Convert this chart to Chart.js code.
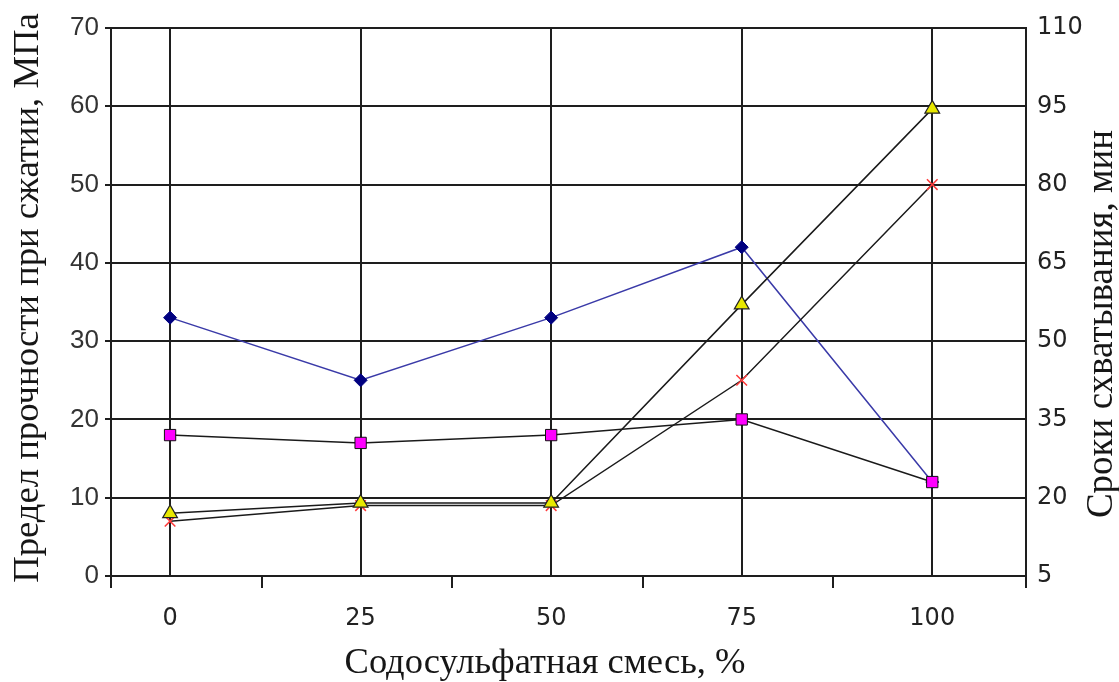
<!DOCTYPE html>
<html>
<head>
<meta charset="utf-8">
<script src="https://cdn.jsdelivr.net/npm/chart.js@4.4.1/dist/chart.umd.min.js"></script>
<style>
  html, body { margin: 0; padding: 0; background: #ffffff; }
  #wrap { width: 1119px; height: 682px; position: relative; }
</style>
</head>
<body>
<div id="wrap"><canvas id="c" width="1119" height="682"></canvas></div>
<script>
// Доля содосульфатной смеси, %
const mixShare = [0, 25, 50, 75, 100];
// Предел прочности при сжатии, МПа (левая ось)
const strengthA = [33, 25, 33, 42, 12];
const strengthB = [18, 17, 18, 20, 12];
// Сроки схватывания, мин (правая ось)
const setEnd = [17, 19, 19, 57, 94.5];
const setStart = [15.5, 18.5, 18.5, 42.5, 80];
// Деления осей
const leftTicks = [0, 10, 20, 30, 40, 50, 60, 70];
const rightTicks = [5, 20, 35, 50, 65, 80, 95, 110];
const xBounds = [-7.75, 12, 37, 62, 87, 112.3];

const gridColor = '#1e1e1e';
const pts = (arr) => mixShare.map((x, i) => ({ x: x, y: arr[i] }));

// Подписи осей: вертикальные читаются снизу вверх с обеих сторон
const axisTitles = {
  id: 'axisTitles',
  afterDraw(chart) {
    const ctx = chart.ctx;
    ctx.save();
    ctx.fillStyle = '#161616';
    ctx.textAlign = 'center';
    ctx.textBaseline = 'alphabetic';
    ctx.font = '36.7px "Liberation Serif"';
    ctx.save();
    ctx.translate(38, 298);
    ctx.rotate(-Math.PI / 2);
    ctx.fillText('Предел прочности при сжатии, МПа', 0, 0);
    ctx.restore();
    ctx.font = '37px "Liberation Serif"';
    ctx.save();
    ctx.translate(1112, 324);
    ctx.rotate(-Math.PI / 2);
    ctx.fillText('Сроки схватывания, мин', 0, 0);
    ctx.restore();
    ctx.textBaseline = 'middle';
    ctx.font = '36.5px "Liberation Serif"';
    ctx.fillText('Содосульфатная смесь, %', 545, 663);
    ctx.restore();
  }
};

new Chart(document.getElementById('c'), {
  type: 'line',
  data: {
    datasets: [
      {
        data: pts(strengthA), yAxisID: 'y', order: 4,
        borderColor: '#3a3aa8', borderWidth: 1.5,
        pointStyle: 'rectRot', pointRadius: 6.5,
        pointBackgroundColor: '#000080', pointBorderColor: '#000080', pointBorderWidth: 1
      },
      {
        data: pts(strengthB), yAxisID: 'y', order: 1,
        borderColor: '#1a1a1a', borderWidth: 1.5,
        pointStyle: 'rect', pointRadius: 8,
        pointBackgroundColor: '#ff00ff', pointBorderColor: '#111111', pointBorderWidth: 1
      },
      {
        data: pts(setEnd), yAxisID: 'y2', order: 2,
        borderColor: '#1a1a1a', borderWidth: 1.5,
        pointStyle: 'triangle', pointRadius: 8.5,
        pointBackgroundColor: '#e8e800', pointBorderColor: '#222222', pointBorderWidth: 1.2
      },
      {
        data: pts(setStart), yAxisID: 'y2', order: 3,
        borderColor: '#1a1a1a', borderWidth: 1.5,
        pointStyle: 'crossRot', pointRadius: 7.5,
        pointBackgroundColor: '#ff3a3a', pointBorderColor: '#ff3a3a', pointBorderWidth: 1.5
      }
    ]
  },
  options: {
    responsive: false,
    animation: false,
    layout: { padding: { top: 28, left: 0, right: 0, bottom: 0 } },
    plugins: { legend: { display: false }, tooltip: { enabled: false } },
    elements: { line: { tension: 0 } },
    scales: {
      x: {
        type: 'linear',
        min: xBounds[0],
        max: xBounds[xBounds.length - 1],
        afterBuildTicks(scale) {
          scale.ticks = mixShare.concat(xBounds).sort((a, b) => a - b).map(v => ({ value: v }));
        },
        afterFit(scale) { scale.height = 106; },
        border: { display: true, color: gridColor, width: 2 },
        grid: {
          lineWidth: 2,
          tickLength: 12,
          tickWidth: 2,
          color: (c) => (c.tick && mixShare.includes(c.tick.value)) ? gridColor : 'rgba(0,0,0,0)',
          tickColor: (c) => (c.tick && mixShare.includes(c.tick.value)) ? 'rgba(0,0,0,0)' : gridColor
        },
        ticks: {
          autoSkip: false,
          maxRotation: 0,
          padding: 16,
          color: '#222222',
          font: { family: '"DejaVu Sans"', size: 24 },
          callback: (v) => mixShare.includes(v) ? String(v) : ''
        }
      },
      y: {
        position: 'left',
        min: 0, max: 70,
        afterBuildTicks(scale) { scale.ticks = leftTicks.map(v => ({ value: v })); },
        afterFit(scale) { scale.width = 111; },
        border: { display: true, color: gridColor, width: 2 },
        grid: { color: gridColor, lineWidth: 2, tickLength: 6 },
        ticks: {
          padding: 6,
          color: '#333333',
          font: { family: '"Liberation Sans"', size: 26 }
        }
      },
      y2: {
        position: 'right',
        min: 5, max: 110,
        afterBuildTicks(scale) { scale.ticks = rightTicks.map(v => ({ value: v })); },
        afterFit(scale) { scale.width = 93; },
        border: { display: true, color: gridColor, width: 2 },
        grid: { drawOnChartArea: false, drawTicks: false },
        ticks: {
          padding: 11,
          color: '#222222',
          font: { family: '"DejaVu Sans"', size: 24 }
        }
      }
    }
  },
  plugins: [axisTitles]
});
</script>
</body>
</html>
